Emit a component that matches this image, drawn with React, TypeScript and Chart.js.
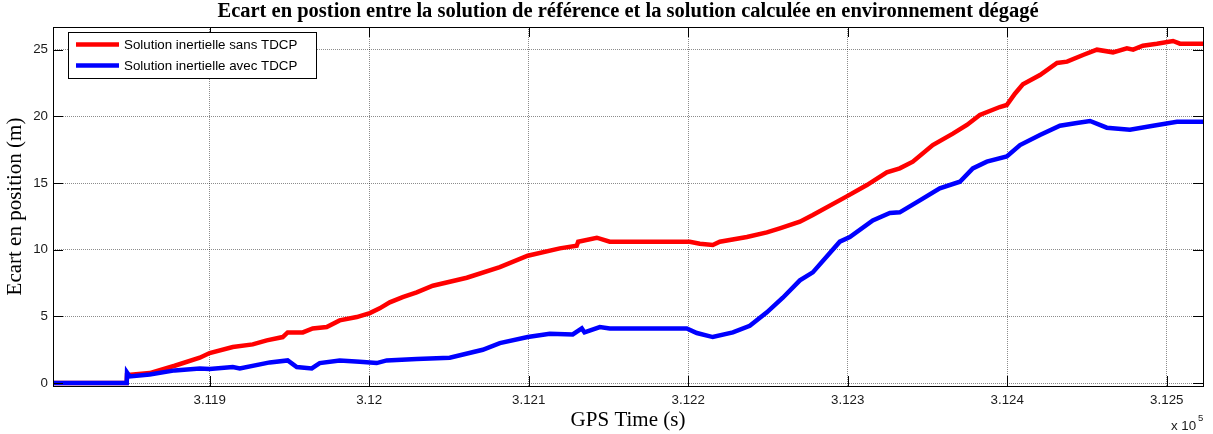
import React, { useEffect, useRef } from 'react';
import { Chart, registerables } from 'chart.js';

Chart.register(...registerables);

const TITLE = 'Ecart en postion entre la solution de référence et la solution calculée en environnement dégagé';
const X_LABEL = 'GPS Time (s)';
const Y_LABEL = 'Ecart en position (m)';
const X_EXPONENT_BASE = 'x 10';
const X_EXPONENT = '5';
const SERIES_LABELS = ['Solution inertielle sans TDCP', 'Solution inertielle avec TDCP'];
const SERIES_COLORS = ['#ff0000', '#0000ff'];

const X_MIN = 311801.8;
const X_MAX = 312522.7;
const Y_MIN = -0.22;
const Y_MAX = 26.7;
const X_TICK_VALUES = [311900, 312000, 312100, 312200, 312300, 312400, 312500];
const Y_TICK_VALUES = [0, 5, 10, 15, 20, 25];

const redTimes = [
  311801.8, 311848.0, 311848.2, 311862.4, 311878.1, 311893.8, 311900.0, 311914.5, 311927.0, 311935.8,
  311945.8, 311948.9, 311958.4, 311964.6, 311973.4, 311981.5, 311992.2, 312000.4, 312006.6, 312012.9,
  312021.0, 312029.8, 312039.9, 312061.2, 312081.9, 312099.4, 312119.5, 312130.1, 312131.0, 312142.7,
  312150.8, 312201.0, 312207.3, 312215.4, 312219.8, 312236.8, 312249.3, 312257.4, 312270.0, 312278.1,
  312299.4, 312312.0, 312324.5, 312332.6, 312340.8, 312353.3, 312365.9, 312374.7, 312382.8, 312395.3,
  312399.7, 312404.8, 312409.8, 312420.5, 312431.2, 312437.5, 312447.5, 312456.2, 312466.3, 312475.0,
  312478.9, 312485.0, 312493.8, 312503.9, 312508.3, 312522.7,
];
const redValues = [
  0, 0, 0.6, 0.75, 1.3, 1.9, 2.25, 2.7, 2.9, 3.2,
  3.45, 3.8, 3.8, 4.1, 4.2, 4.7, 4.95, 5.25, 5.6, 6.05,
  6.45, 6.8, 7.3, 7.9, 8.7, 9.55, 10.1, 10.3, 10.6, 10.9,
  10.6, 10.6, 10.45, 10.35, 10.6, 10.95, 11.3, 11.6, 12.1, 12.6,
  14.0, 14.85, 15.8, 16.1, 16.6, 17.85, 18.7, 19.35, 20.1, 20.7,
  20.85, 21.7, 22.4, 23.1, 24.0, 24.1, 24.6, 25.0, 24.8, 25.1,
  25.0, 25.3, 25.45, 25.65, 25.45, 25.45,
];

const blueTimes = [
  311801.8, 311848.0, 311848.2, 311849.9, 311862.4, 311878.1, 311893.8, 311900.0, 311914.5, 311918.9,
  311937.7, 311948.9, 311954.6, 311964.0, 311969.0, 311981.5, 311994.1, 312004.7, 312011.0, 312029.8,
  312050.5, 312071.2, 312081.9, 312099.4, 312113.2, 312127.6, 312133.3, 312135.0, 312144.6, 312150.8,
  312199.1, 312205.4, 312215.4, 312228.0, 312238.6, 312249.3, 312259.3, 312270.0, 312278.1, 312295.0,
  312301.3, 312315.7, 312326.4, 312332.6, 312345.2, 312357.7, 312370.3, 312378.4, 312387.2, 312399.7,
  312408.0, 312420.5, 312433.0, 312443.6, 312451.9, 312462.4, 312476.9, 312491.4, 312506.4, 312522.7,
];
const blueValues = [
  0, 0, 0.8, 0.5, 0.65, 0.95, 1.1, 1.05, 1.2, 1.1,
  1.55, 1.7, 1.2, 1.1, 1.5, 1.7, 1.6, 1.5, 1.7, 1.8,
  1.9, 2.5, 3.0, 3.45, 3.7, 3.65, 4.1, 3.8, 4.2, 4.1,
  4.1, 3.75, 3.45, 3.8, 4.3, 5.3, 6.4, 7.7, 8.3, 10.6,
  10.95, 12.2, 12.75, 12.8, 13.7, 14.6, 15.1, 16.1, 16.6, 17.0,
  17.85, 18.6, 19.3, 19.5, 19.65, 19.15, 19.0, 19.3, 19.6, 19.6,
];

const SANS = '"Liberation Sans", Arial, sans-serif';
const SERIF = '"Liberation Serif", "Times New Roman", serif';

const toPoints = (xs: number[], ys: number[]) => xs.map((x, i) => ({ x, y: ys[i] }));

const matlabPlugin = {
  id: 'matlabDecor',
  afterDraw(chart: any) {
    const { ctx, chartArea: a, scales } = chart;
    ctx.save();
    // inward tick marks
    const TL = 10;
    ctx.strokeStyle = '#000';
    ctx.lineWidth = 1;
    ctx.beginPath();
    X_TICK_VALUES.forEach((v) => {
      const x = Math.round(scales.x.getPixelForValue(v)) + 0.5;
      ctx.moveTo(x, a.bottom);
      ctx.lineTo(x, a.bottom - TL);
      ctx.moveTo(x, a.top);
      ctx.lineTo(x, a.top + TL);
    });
    Y_TICK_VALUES.forEach((v) => {
      const y = Math.round(scales.y.getPixelForValue(v)) + 0.5;
      ctx.moveTo(a.left, y);
      ctx.lineTo(a.left + TL, y);
      ctx.moveTo(a.right, y);
      ctx.lineTo(a.right - TL, y);
    });
    ctx.stroke();
    // box
    ctx.strokeRect(Math.round(a.left) + 0.5, Math.round(a.top) + 0.5, Math.round(a.right - a.left), Math.round(a.bottom - a.top));

    // title
    const cx = (a.left + a.right) / 2;
    ctx.fillStyle = '#000';
    ctx.textAlign = 'center';
    ctx.textBaseline = 'alphabetic';
    ctx.font = `bold 20.5px ${SERIF}`;
    ctx.fillText(TITLE, cx, 17);

    // axis labels
    ctx.font = `21px ${SERIF}`;
    ctx.fillText(X_LABEL, cx, 426);
    ctx.save();
    ctx.translate(21, (a.top + a.bottom) / 2);
    ctx.rotate(-Math.PI / 2);
    ctx.fillText(Y_LABEL, 0, 0);
    ctx.restore();

    // exponent
    ctx.textAlign = 'left';
    ctx.fillStyle = '#1a1a1a';
    ctx.font = `13.33px ${SANS}`;
    ctx.fillText(X_EXPONENT_BASE, 1171, 430);
    ctx.font = `9.5px ${SANS}`;
    ctx.fillText(X_EXPONENT, 1198, 421);

    // legend
    const lx = 68, ly = 32, lw = 248, lh = 46;
    ctx.fillStyle = '#fff';
    ctx.fillRect(lx, ly, lw, lh);
    ctx.strokeStyle = '#000';
    ctx.lineWidth = 1;
    ctx.strokeRect(lx + 0.5, ly + 0.5, lw, lh);
    ctx.font = `13.33px ${SANS}`;
    ctx.textBaseline = 'middle';
    chart.data.datasets.forEach((ds: any, i: number) => {
      const y = 44.5 + i * 21;
      ctx.strokeStyle = ds.borderColor;
      ctx.lineWidth = 4.5;
      ctx.beginPath();
      ctx.moveTo(76, y);
      ctx.lineTo(119, y);
      ctx.stroke();
      ctx.fillStyle = '#000';
      ctx.fillText(ds.label, 124, y + 0.5);
    });
    ctx.restore();
  },
};

export default function App() {
  const canvasRef = useRef<HTMLCanvasElement | null>(null);

  useEffect(() => {
    document.body.style.margin = '0';
    const canvas = canvasRef.current;
    if (!canvas) return;
    const chart = new Chart(canvas, {
      type: 'line',
      data: {
        datasets: [
          {
            label: SERIES_LABELS[0],
            data: toPoints(redTimes, redValues),
            borderColor: SERIES_COLORS[0],
            backgroundColor: SERIES_COLORS[0],
            borderWidth: 4.5,
            pointRadius: 0,
            tension: 0,
            order: 1,
          },
          {
            label: SERIES_LABELS[1],
            data: toPoints(blueTimes, blueValues),
            borderColor: SERIES_COLORS[1],
            backgroundColor: SERIES_COLORS[1],
            borderWidth: 4.5,
            pointRadius: 0,
            tension: 0,
            order: 0,
          },
        ],
      },
      options: {
        animation: false,
        responsive: false,
        devicePixelRatio: 1,
        layout: { padding: { top: 27, right: 10, left: 0, bottom: 0 } },
        plugins: { legend: { display: false }, title: { display: false }, tooltip: { enabled: false } },
        scales: {
          x: {
            type: 'linear',
            min: X_MIN,
            max: X_MAX,
            afterBuildTicks: (scale: any) => {
              scale.ticks = X_TICK_VALUES.map((value) => ({ value }));
            },
            afterFit: (scale: any) => {
              scale.height = 48;
            },
            ticks: {
              padding: 6,
              color: '#1a1a1a',
              font: { family: SANS, size: 13.33 },
              maxRotation: 0,
              callback: (v: any) => parseFloat((Number(v) / 1e5).toFixed(4)).toString(),
            },
            grid: { color: 'rgba(0,0,0,0.45)', lineWidth: 1, drawTicks: false },
            border: { display: false, dash: [1, 1] },
          },
          y: {
            type: 'linear',
            min: Y_MIN,
            max: Y_MAX,
            afterBuildTicks: (scale: any) => {
              scale.ticks = Y_TICK_VALUES.map((value) => ({ value }));
            },
            afterFit: (scale: any) => {
              scale.width = 53;
            },
            ticks: {
              padding: 5,
              color: '#1a1a1a',
              font: { family: SANS, size: 13.33 },
              callback: (v: any) => String(v),
            },
            grid: { color: 'rgba(0,0,0,0.45)', lineWidth: 1, drawTicks: false },
            border: { display: false, dash: [1, 1] },
          },
        },
      },
      plugins: [matlabPlugin],
    } as any);
    return () => chart.destroy();
  }, []);

  return (
    <div style={{ width: 1213, height: 434, background: '#fff' }}>
      <canvas ref={canvasRef} width={1213} height={434} style={{ display: 'block' }} />
    </div>
  );
}
